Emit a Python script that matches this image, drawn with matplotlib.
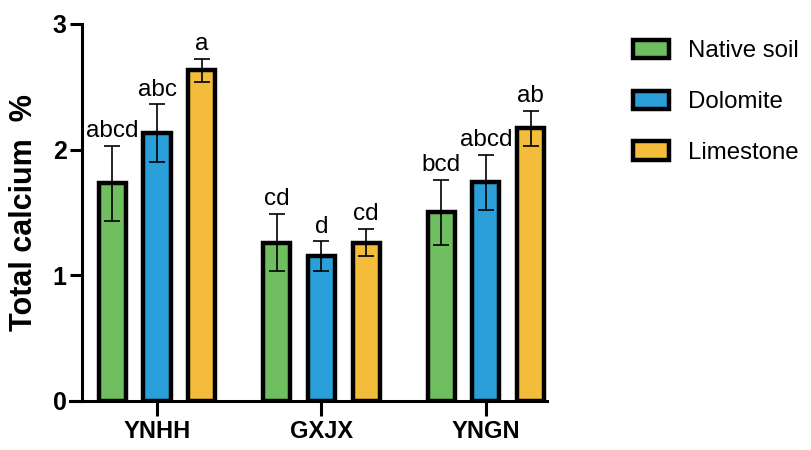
import matplotlib
matplotlib.use("Agg")
import matplotlib.pyplot as plt
import numpy as np

plt.rcParams["font.family"] = ["Liberation Sans", "DejaVu Sans"]

## Data
sites = ["YNHH", "GXJX", "YNGN"]
treatments = ["Native soil", "Dolomite", "Limestone"]
colors = ["#6fbe5f", "#2a9fd9", "#f3bd3b"]

native_mean = [1.73, 1.26, 1.50]
native_sd = [0.30, 0.23, 0.26]
dolomite_mean = [2.13, 1.15, 1.74]
dolomite_sd = [0.23, 0.12, 0.22]
limestone_mean = [2.63, 1.26, 2.17]
limestone_sd = [0.09, 0.11, 0.14]

native_letters = ["abcd", "cd", "bcd"]
dolomite_letters = ["abc", "d", "abcd"]
limestone_letters = ["a", "cd", "ab"]

means = [native_mean, dolomite_mean, limestone_mean]
sds = [native_sd, dolomite_sd, limestone_sd]
letters = [native_letters, dolomite_letters, limestone_letters]

## Plot
fig = plt.figure(figsize=(8.11, 4.5), dpi=100)
ax = fig.add_axes([0.101, 0.109, 0.573, 0.838])

x = np.arange(len(sites))
step = 0.272
width = 0.165

for k in range(len(treatments)):
    pos = x + (k - 1) * step
    ax.bar(pos, means[k], width, color=colors[k], edgecolor="black",
           linewidth=3.2, label=treatments[k], zorder=2)
    ax.errorbar(pos, means[k], yerr=sds[k], fmt="none", ecolor="black",
                elinewidth=1.2, capsize=6, capthick=1.2, zorder=3)
    for p, m, s, t in zip(pos, means[k], sds[k], letters[k]):
        ax.text(p, m + s + 0.03, t, ha="center", va="bottom", fontsize=17.5)

ax.set_xlim(-0.457, 2.37)
ax.set_ylim(0, 3)
ax.set_yticks([0, 1, 2, 3])
ax.set_xticks(x)
ax.set_xticklabels(sites, fontweight="bold", fontsize=17)
for lab in ax.get_yticklabels():
    lab.set_fontweight("bold")
    lab.set_fontsize(18)

ax.spines["top"].set_visible(False)
ax.spines["right"].set_visible(False)
ax.spines["left"].set_linewidth(2.2)
ax.spines["bottom"].set_linewidth(2.2)
ax.spines["bottom"].set_bounds(-0.53, 2.37)
ax.tick_params(axis="y", length=9, width=2.2, pad=2)
ax.tick_params(axis="x", length=11, width=2.2, pad=3)

ax.set_ylabel("Total calcium  %", fontweight="bold", fontsize=22, labelpad=10)

fig.legend(loc="upper left", bbox_to_anchor=(0.754, 0.96), frameon=False,
           fontsize=17.3, handlelength=1.5, handleheight=0.8,
           labelspacing=1.18, handletextpad=0.8)

plt.savefig("out.png", dpi=100)
